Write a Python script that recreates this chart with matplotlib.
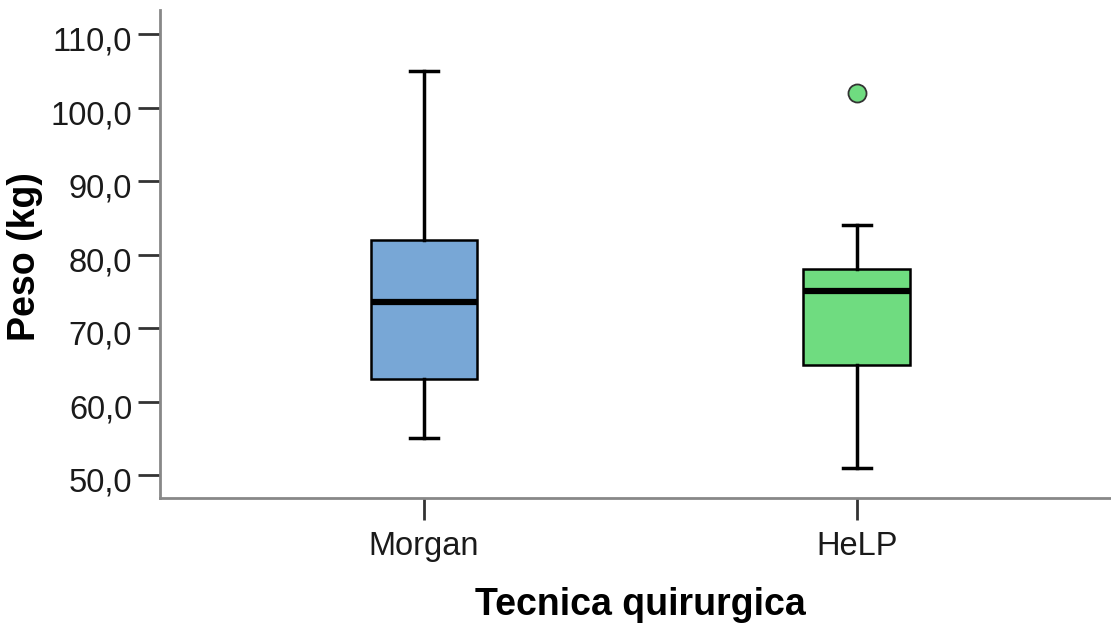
import matplotlib
matplotlib.use("Agg")
import matplotlib.pyplot as plt
import matplotlib.transforms as mtransforms

categories = ["Morgan", "HeLP"]
whislo = [55.0, 51.0]
q1 = [63.0, 65.0]
med = [73.5, 75.0]
q3 = [82.0, 78.0]
whishi = [105.0, 84.0]
fliers = [[], [102.0]]
colors = ["#78A7D6", "#6FDC80"]
yticks = [50, 60, 70, 80, 90, 100, 110]
ytick_labels = ["50,0", "60,0", "70,0", "80,0", "90,0", "100,0", "110,0"]

plt.rcParams['font.family'] = ['Liberation Sans', 'DejaVu Sans']

fig = plt.figure(figsize=(11.11, 6.25), dpi=100)
ax = fig.add_axes([0.144, 0.2032, 0.856, 0.7808])

stats = []
for i, c in enumerate(categories):
    stats.append(dict(label=c, whislo=whislo[i], q1=q1[i], med=med[i],
                      q3=q3[i], whishi=whishi[i], fliers=fliers[i]))

bp = ax.bxp(stats, positions=[1, 2], widths=0.247, capwidths=0.065,
            patch_artist=True, showfliers=True,
            boxprops=dict(edgecolor="black", linewidth=1.8),
            medianprops=dict(color="black", linewidth=4.5, solid_capstyle="butt"),
            whiskerprops=dict(color="black", linewidth=2.5),
            capprops=dict(color="black", linewidth=2.5),
            flierprops=dict(marker="o", markersize=13, markeredgecolor="#333333",
                            markeredgewidth=1.3))
for patch, col in zip(bp["boxes"], colors):
    patch.set_facecolor(col)
for fl, col in zip(bp["fliers"], colors):
    fl.set_markerfacecolor(col)

ax.set_xlim(0.390, 2.587)
ax.set_ylim(46.87, 113.27)
ax.set_yticks(yticks)
ax.set_yticklabels(ytick_labels)
ax.set_xticks([1, 2])
ax.set_xticklabels(categories)

for s in ["top", "right"]:
    ax.spines[s].set_visible(False)
for s in ["left", "bottom"]:
    ax.spines[s].set_color("#888888")
    ax.spines[s].set_linewidth(2)

ax.tick_params(axis="both", length=16, width=2, color="#333333",
               labelsize=23.5, labelcolor="#1a1a1a")
ax.tick_params(axis="y", pad=4)
ax.tick_params(axis="x", pad=8)

offset = mtransforms.ScaledTranslation(0, -0.045, fig.dpi_scale_trans)
for lab in ax.get_yticklabels():
    lab.set_transform(lab.get_transform() + offset)

ax.set_xlabel("Tecnica quirurgica", fontsize=27, fontweight="bold", va="baseline")
ax.xaxis.set_label_coords(0.505, -0.24)
ax.set_ylabel("Peso (kg)", fontsize=27, fontweight="bold")
ax.yaxis.set_label_coords(-0.123, 0.494)

fig.savefig("out.png", dpi=100)
